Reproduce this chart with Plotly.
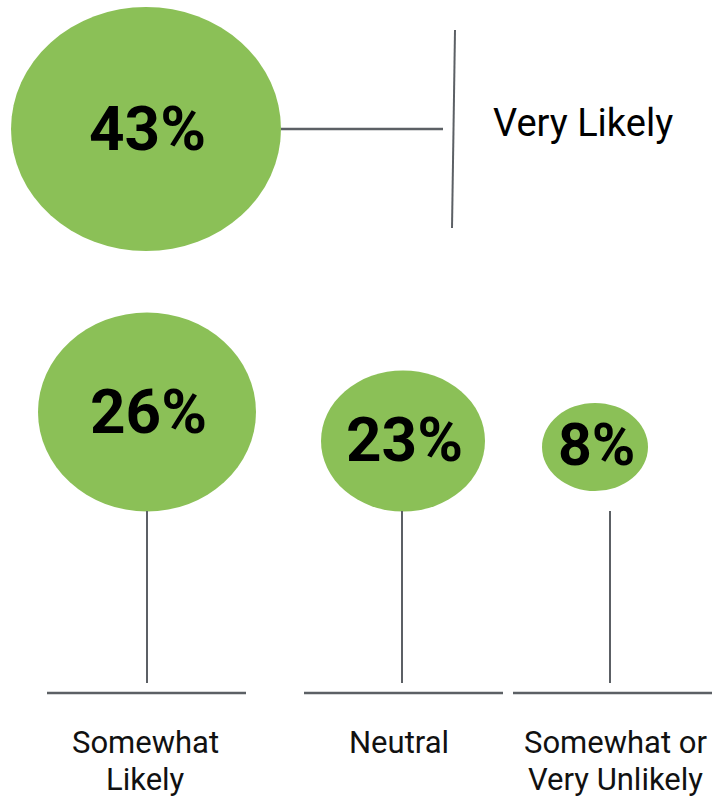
import plotly.graph_objects as go

# ---- data ----
categories = ["Very Likely", "Somewhat Likely", "Neutral", "Somewhat or Very Unlikely"]
category_labels = ["Very Likely", "Somewhat<br>Likely", "Neutral", "Somewhat or<br>Very Unlikely"]
values = [43, 26, 23, 8]

# ---- layout (canvas units = pixels) ----
W, H = 713, 799
centers_x = [146, 147, 403, 595]
centers_y = [129, 412, 441, 447]
bubble_w = [270, 218, 164, 106]
bubble_h = [244, 199, 141, 88]
pct_font = [62, 62, 62, 59]
text_dy = [-1, -1, -2, -3]

GREEN = "#8BC057"
GRAY = "#5c6065"

fig = go.Figure()
shapes = []
annotations = []

for i, v in enumerate(values):
    cx, cy = centers_x[i], centers_y[i]
    shapes.append(dict(type="circle", xref="x", yref="y",
                       x0=cx - bubble_w[i] / 2, x1=cx + bubble_w[i] / 2,
                       y0=cy - bubble_h[i] / 2, y1=cy + bubble_h[i] / 2,
                       fillcolor=GREEN, line=dict(width=0), layer="below"))
    annotations.append(dict(x=cx + 1, y=cy + text_dy[i], xref="x", yref="y", text=f"<b>{v}%</b>",
                            showarrow=False, xanchor="center", yanchor="middle",
                            font=dict(family="Roboto", size=pct_font[i], color="#000000")))

# top item connector
shapes.append(dict(type="line", x0=281, x1=443, y0=129, y1=129,
                   line=dict(color=GRAY, width=2.5)))
shapes.append(dict(type="line", x0=455, x1=452, y0=30, y1=228,
                   line=dict(color=GRAY, width=2)))
annotations.append(dict(x=491, y=123, xref="x", yref="y", text=category_labels[0],
                        showarrow=False, xanchor="left", yanchor="middle",
                        font=dict(family="Roboto", size=38, color="#000000")))

# bottom items: stems, baselines, labels
stem_x = [147, 402, 610]
base_x0 = [47, 304, 513]
base_x1 = [246, 503, 712]
label_x = [145, 399, 615]
first_line_y = 742
line_gap = 37
for j in range(3):
    shapes.append(dict(type="line", x0=stem_x[j], x1=stem_x[j], y0=511, y1=683,
                       line=dict(color=GRAY, width=2)))
    shapes.append(dict(type="line", x0=base_x0[j], x1=base_x1[j], y0=693, y1=693,
                       line=dict(color=GRAY, width=2.5)))
    for k, line in enumerate(category_labels[j + 1].split("<br>")):
        annotations.append(dict(x=label_x[j], y=first_line_y + k * line_gap, xref="x", yref="y",
                                text=line, showarrow=False, xanchor="center", yanchor="middle",
                                font=dict(family="Roboto", size=31, color="#111111")))

fig.update_layout(
    width=W, height=H,
    margin=dict(l=0, r=0, t=0, b=0),
    paper_bgcolor="white", plot_bgcolor="white",
    xaxis=dict(range=[0, W], visible=False, fixedrange=True),
    yaxis=dict(range=[H, 0], visible=False, fixedrange=True),
    shapes=shapes, annotations=annotations, showlegend=False,
)
fig.write_html(
    "out.html",
    config={"displayModeBar": False},
    post_script="document.body.style.margin='0';document.body.style.padding='0';document.body.style.overflow='hidden';",
)
